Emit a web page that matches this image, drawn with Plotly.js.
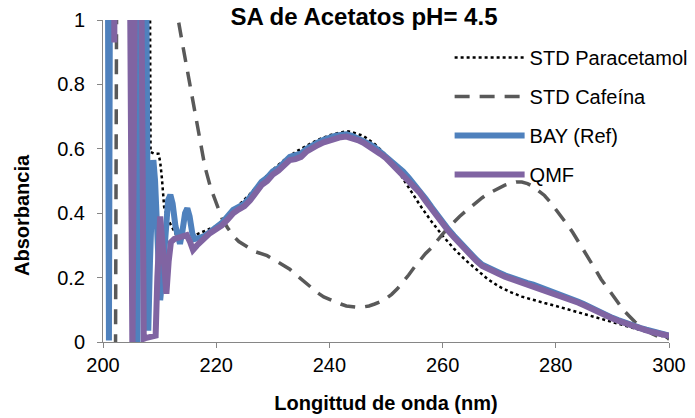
<!DOCTYPE html>
<html>
<head>
<meta charset="utf-8">
<script src="https://cdn.plot.ly/plotly-3.0.1.min.js"></script>
<style>html,body{margin:0;padding:0;background:#fff;}#chart{width:695px;height:418px;}</style>
</head>
<body>
<div id="chart"></div>
<script>
// ---- Data (values above 1 are off-scale) ----
var seriesNames = ["STD Paracetamol", "STD Cafeína", "BAY (Ref)", "QMF"];

var paraX = [200, 208.2, 208.4, 209.0, 209.8, 210.1, 210.4, 210.6, 210.8, 211.5, 212.4, 213, 214, 215, 216, 217, 218, 219,
  220, 222, 224, 226, 228, 230, 232, 234, 236, 238, 240, 242, 243, 244, 246, 248, 250, 252, 254, 256, 258, 260,
  262, 264, 266, 268, 270, 272, 274, 276, 278, 280, 282, 284, 286, 288, 290, 292, 294, 296, 298, 300];
var paraY = [1.6, 1.6, 0.59, 0.585, 0.585, 0.56, 0.51, 0.46, 0.42, 0.38, 0.35, 0.33, 0.325, 0.325, 0.33, 0.338, 0.345, 0.352,
  0.36, 0.39, 0.425, 0.46, 0.50, 0.535, 0.565, 0.59, 0.61, 0.628, 0.642, 0.652, 0.655, 0.652, 0.64, 0.615, 0.58, 0.535, 0.48, 0.425, 0.375, 0.33,
  0.29, 0.255, 0.225, 0.195, 0.172, 0.155, 0.141, 0.13, 0.121, 0.112, 0.103, 0.092, 0.082, 0.072, 0.063, 0.052, 0.042, 0.032, 0.022, 0.012];

var cafX = [202.2, 202.5, 212.5, 213, 214, 215, 216, 217, 218, 219, 220, 221, 222, 223, 224, 225, 226, 227, 228, 229,
  230, 231, 232, 233, 234, 235, 236, 237, 238, 239, 240, 241, 242, 243, 244, 245, 246, 247, 248, 249,
  250, 251, 252, 253, 254, 255, 256, 257, 258, 259, 260, 261, 262, 263, 264, 265, 266, 267, 268, 269,
  270, 271, 272, 273, 274, 275, 276, 277, 278, 279, 280, 281, 282, 283, 284, 285, 286, 287, 288, 289,
  290, 291, 292, 293, 294, 295, 296, 297, 298, 299, 300];
var cafY = [-0.1, 1.6, 1.6, 1.03, 0.93, 0.83, 0.73, 0.63, 0.545, 0.48, 0.43, 0.385, 0.355, 0.33, 0.312, 0.30, 0.29, 0.28, 0.275, 0.268,
  0.258, 0.248, 0.238, 0.226, 0.21, 0.195, 0.18, 0.165, 0.152, 0.14, 0.132, 0.125, 0.118, 0.112, 0.109, 0.108, 0.109, 0.112, 0.118, 0.125,
  0.135, 0.148, 0.165, 0.185, 0.208, 0.232, 0.255, 0.275, 0.292, 0.315, 0.335, 0.355, 0.373, 0.39, 0.405, 0.42, 0.435, 0.448, 0.46, 0.47,
  0.48, 0.487, 0.493, 0.497, 0.497, 0.492, 0.483, 0.47, 0.455, 0.435, 0.413, 0.39, 0.365, 0.34, 0.312, 0.285, 0.255, 0.225, 0.195, 0.17,
  0.145, 0.12, 0.098, 0.08, 0.062, 0.048, 0.036, 0.026, 0.018, 0.013, 0.01];

var bayX = [200.8, 201.05, 201.3, 205.8, 206.1, 206.5, 207.5, 208.0, 208.3, 208.6, 208.9, 209.2, 209.5, 209.8, 210.1, 210.5,
  211.0, 211.5, 211.9, 212.3, 212.8, 213.3, 213.6, 214.0, 214.5, 214.9, 215.3, 215.8, 216.2, 217, 218, 219,
  220, 221, 222, 223, 224, 225, 226, 227, 228, 229, 230, 231, 232, 233, 234, 235, 236, 237, 238, 239,
  240, 241, 242, 243, 244, 245, 246, 247, 248, 249, 250, 251, 252, 253, 254, 255, 256, 257, 258, 259,
  260, 261, 262, 263, 264, 265, 266, 267, 268, 269, 270, 271, 272, 273, 274, 275, 276, 277, 278, 279,
  280, 281, 282, 283, 284, 285, 286, 287, 288, 289, 290, 291, 292, 293, 294, 295, 296, 297, 298, 299, 300];
var bayY = [1.6, 0.005, 1.6, 1.6, 0.0, 1.6, 1.6, 0.035, 0.25, 0.48, 0.565, 0.5, 0.33, 0.17, 0.13, 0.2,
  0.36, 0.44, 0.457, 0.43, 0.36, 0.31, 0.305, 0.34, 0.40, 0.415, 0.39, 0.335, 0.32, 0.323, 0.33, 0.343,
  0.355, 0.37, 0.39, 0.41, 0.42, 0.43, 0.45, 0.475, 0.497, 0.51, 0.53, 0.54, 0.56, 0.575, 0.58, 0.585, 0.60, 0.612, 0.62, 0.628,
  0.635, 0.64, 0.643, 0.645, 0.64, 0.633, 0.625, 0.615, 0.605, 0.59, 0.578, 0.56, 0.545, 0.53, 0.51, 0.49, 0.47, 0.445, 0.42, 0.395,
  0.375, 0.35, 0.33, 0.31, 0.29, 0.27, 0.255, 0.24, 0.23, 0.222, 0.215, 0.207, 0.2, 0.194, 0.188, 0.183, 0.178, 0.172, 0.166, 0.16,
  0.153, 0.147, 0.14, 0.132, 0.125, 0.117, 0.108, 0.098, 0.09, 0.082, 0.075, 0.068, 0.061, 0.054, 0.048, 0.043, 0.038, 0.033, 0.028, 0.024, 0.02];

var qmfX = [200, 201.9, 202.0, 202.1, 204.6, 205.2, 205.8, 206.6, 207.2, 207.5, 208.5, 209.3, 209.6, 209.9, 210.1, 210.4,
  210.8, 211.2, 211.6, 212.0, 212.6, 213.6, 214.8, 215.4, 215.9, 216.6, 217.5, 218.9, 219.5,
  220, 221, 222, 223, 224, 225, 226, 227, 228, 229, 230, 231, 232, 233, 234, 235, 236, 237, 238, 239,
  240, 241, 242, 243, 244, 245, 246, 247, 248, 249, 250, 251, 252, 253, 254, 255, 256, 257, 258, 259,
  260, 261, 262, 263, 264, 265, 266, 267, 268, 269, 270, 271, 272, 273, 274, 275, 276, 277, 278, 279,
  280, 281, 282, 283, 284, 285, 286, 287, 288, 289, 290, 291, 292, 293, 294, 295, 296, 297, 298, 299, 300];
var qmfY = [1.6, 1.6, 0.93, 1.6, 1.6, -0.05, 1.6, 1.6, 0.01, 0.012, 0.015, 0.02, 0.2, 0.36, 0.39, 0.33,
  0.2, 0.15, 0.25, 0.31, 0.32, 0.326, 0.332, 0.31, 0.286, 0.3, 0.317, 0.338, 0.345,
  0.35, 0.362, 0.38, 0.4, 0.412, 0.422, 0.44, 0.465, 0.487, 0.5, 0.52, 0.532, 0.55, 0.565, 0.568, 0.575, 0.592, 0.604, 0.612, 0.62,
  0.627, 0.632, 0.636, 0.638, 0.634, 0.627, 0.619, 0.609, 0.598, 0.584, 0.571, 0.553, 0.538, 0.522, 0.503, 0.483, 0.463, 0.438, 0.414, 0.389,
  0.369, 0.345, 0.325, 0.305, 0.285, 0.266, 0.251, 0.236, 0.226, 0.218, 0.211, 0.203, 0.197, 0.191, 0.185, 0.18, 0.175, 0.169, 0.163, 0.157,
  0.15, 0.144, 0.137, 0.129, 0.122, 0.114, 0.105, 0.096, 0.088, 0.08, 0.073, 0.066, 0.059, 0.052, 0.046, 0.041, 0.036, 0.031, 0.027, 0.023, 0.019];

var xTicks = [200, 220, 240, 260, 280, 300];
var yTicks = [0, 0.2, 0.4, 0.6, 0.8, 1];
var yTickText = ["0", "0.2", "0.4", "0.6", "0.8", "1"];
var chartTitle = "SA de Acetatos pH= 4.5";
var xTitle = "Longittud de onda (nm)";
var yTitle = "Absorbancia";

var FONT = "Liberation Sans, Arial, Helvetica, sans-serif";

var traces = [
  {x: paraX, y: paraY, name: seriesNames[0], legendgroup: "a", mode: "lines",
   line: {color: "#000000", width: 2.5, dash: "3px,3px"}},
  {x: cafX, y: cafY, name: seriesNames[1], legendgroup: "b", mode: "lines",
   line: {color: "#595959", width: 3.5, dash: "15px,10px"}},
  {x: bayX, y: bayY, name: seriesNames[2], legendgroup: "c", mode: "lines",
   line: {color: "#4F81BD", width: 6}},
  {x: qmfX, y: qmfY, name: seriesNames[3], legendgroup: "d", mode: "lines",
   line: {color: "#8064A2", width: 6}}
];

var layout = {
  width: 695, height: 418,
  margin: {l: 103, r: 26, t: 20, b: 76, pad: 0, autoexpand: false},
  paper_bgcolor: "#ffffff", plot_bgcolor: "#ffffff",
  font: {family: FONT, size: 20, color: "#000000"},
  title: {text: "<b>" + chartTitle + "</b>", font: {family: FONT, size: 24, color: "#000"},
          x: 364 / 695, xanchor: "center", y: 1 - 17 / 418, yanchor: "middle"},
  showlegend: true,
  legend: {x: 0.6124, y: 0.944, xanchor: "left", yanchor: "top", bgcolor: "rgba(0,0,0,0)",
           font: {family: FONT, size: 20, color: "#000"}, traceorder: "grouped",
           tracegroupgap: 10, itemwidth: 70},
  xaxis: {range: [200, 300], tickvals: xTicks, ticktext: xTicks.map(String), ticks: "outside", ticklen: 5,
          tickcolor: "#868686", showline: true, linecolor: "#868686", linewidth: 1, showgrid: false,
          zeroline: false, tickfont: {family: FONT, size: 20}, automargin: false,
          title: {text: "<b>" + xTitle + "</b>", font: {family: FONT, size: 20}, standoff: 20}},
  yaxis: {range: [0, 1], tickvals: yTicks, ticktext: yTickText, ticks: "outside", ticklen: 5,
          tickcolor: "#868686", showline: true, linecolor: "#868686", linewidth: 1, showgrid: false,
          zeroline: false, tickfont: {family: FONT, size: 20}, ticklabelstandoff: 8, automargin: false},
  annotations: [
    {text: "<b>" + yTitle + "</b>", xref: "paper", yref: "paper", x: -81 / 566, y: (342 - 215) / 322,
     xanchor: "center", yanchor: "middle", textangle: -90, showarrow: false,
     font: {family: FONT, size: 20, color: "#000"}}
  ]
};

Plotly.newPlot("chart", traces, layout, {displayModeBar: false, staticPlot: true});
</script>
</body>
</html>
